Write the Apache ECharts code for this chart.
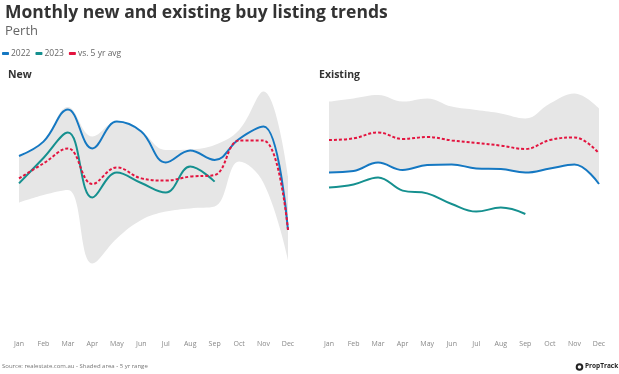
<!DOCTYPE html>
<html>
<head>
<meta charset="utf-8">
<script src="https://cdn.jsdelivr.net/npm/echarts@6/dist/echarts.min.js"></script>
<style>html,body{margin:0;padding:0;background:#fff;}#c{width:619px;height:374px;}</style>
</head>
<body>
<div id="c"></div>
<script>
var months = ['Jan','Feb','Mar','Apr','May','Jun','Jul','Aug','Sep','Oct','Nov','Dec'];

// New listings (index values)
var new2022 = [62, 69.2, 85.3, 65.8, 79.2, 74.2, 58.8, 64.7, 60, 70.5, 76.7, 25];
var new2023 = [48.3, 61, 73.7, 41.2, 53.7, 48.5, 43.7, 56.7, 49.2];
var newAvg  = [50.8, 58.3, 65.8, 48, 56.3, 50.8, 49.7, 51.7, 52.5, 69.7, 69.7, 25];
var newHigh = [62, 69.2, 86.5, 71.7, 79.2, 74.2, 65, 65.3, 67.5, 75, 94.2, 52];
var newLow  = [38.7, 42.5, 45, 8.3, 20.8, 30, 34.2, 35.8, 36.7, 59.2, 48.5, 10];

// Existing listings (index values)
var ex2022 = [53.8, 54.5, 58.7, 55, 57.5, 57.8, 55.8, 55.5, 53.7, 55.7, 57.7, 48];
var ex2023 = [46.2, 47.8, 51.3, 44.7, 43.3, 38, 34.2, 36.2, 33];
var exAvg  = [70, 70.8, 73.8, 70.5, 71.5, 69.8, 68.5, 67.2, 65.5, 70, 71.3, 63.3];
var exHigh = [89.2, 90.8, 92.5, 89.2, 90.8, 86.7, 85, 83.3, 80.8, 88.3, 93.3, 85.8];
var exLow  = ex2022;

var C22 = '#1578c2', C23 = '#15908f', CAVG = '#e3143f', BAND = '#e6e6e6';

function diff(h, l) { return h.map(function (v, i) { return +(v - l[i]).toFixed(2); }); }

function bandSeries(idx, low, high) {
  return [
    { type: 'line', xAxisIndex: idx, yAxisIndex: idx, stack: 'band' + idx, data: low, smooth: 0.4,
      symbol: 'none', lineStyle: { opacity: 0 }, silent: true, z: 1 },
    { type: 'line', xAxisIndex: idx, yAxisIndex: idx, stack: 'band' + idx, data: diff(high, low), smooth: 0.4,
      symbol: 'none', lineStyle: { opacity: 0 }, areaStyle: { color: BAND, opacity: 1 }, silent: true, z: 1 }
  ];
}
function lineSeries(idx, name, data, color, dashed) {
  return { type: 'line', name: name, xAxisIndex: idx, yAxisIndex: idx, data: data, smooth: 0.4,
    symbol: 'none', z: dashed ? 4 : 3,
    lineStyle: { color: color, width: 2, type: dashed ? [3, 2] : 'solid' }, itemStyle: { color: color } };
}

var axisX = function (idx) {
  return { type: 'category', gridIndex: idx, data: months, boundaryGap: false,
    axisLine: { show: false }, axisTick: { show: false }, splitLine: { show: false },
    axisLabel: { color: '#888', fontSize: 7, fontFamily: 'Open Sans', margin: 0, interval: 0 } };
};
var axisY = function (idx) {
  return { type: 'value', gridIndex: idx, min: -30, max: 100, show: false, splitLine: { show: false } };
};

var chart = echarts.init(document.getElementById('c'), null, { renderer: 'canvas' });
chart.setOption({
  animation: false,
  backgroundColor: '#fff',
  title: [
    { text: 'Monthly new and existing buy listing trends', left: 5, top: 4, padding: 0,
      textStyle: { fontFamily: 'Open Sans', fontWeight: 'bold', fontSize: 17.5, color: '#333' } },
    { text: 'Perth', left: 5, top: 25, padding: 0, textStyle: { fontFamily: 'Open Sans', fontWeight: 'normal', fontSize: 13, color: '#666' } },
    { text: 'New', left: 8, top: 70, padding: 0, textStyle: { fontFamily: 'Open Sans', fontWeight: 'bold', fontSize: 10.5, color: '#333' } },
    { text: 'Existing', left: 319, top: 70, padding: 0, textStyle: { fontFamily: 'Open Sans', fontWeight: 'bold', fontSize: 10.5, color: '#333' } },
    { text: 'Source: realestate.com.au - Shaded area - 5 yr range', left: 2, top: 363, padding: 0,
      textStyle: { fontFamily: 'Open Sans', fontWeight: 'normal', fontSize: 6, color: '#777' } },
    { text: 'PropTrack', left: 585, top: 363, padding: 0, textStyle: { fontFamily: 'Open Sans', fontWeight: 'bold', fontSize: 6.5, color: '#222' } }
  ],
  graphic: [
    { type: 'circle', shape: { cx: 579.5, cy: 367, r: 3.8 }, style: { fill: '#222' } },
    { type: 'circle', shape: { cx: 579.5, cy: 367, r: 1.8 }, style: { fill: '#fff' } }
  ],
  legend: {
    data: ['2022', '2023', 'vs. 5 yr avg'], left: 2, top: 49, padding: 0, itemWidth: 7, itemHeight: 3, itemGap: 5,
    icon: 'roundRect', textStyle: { fontFamily: 'Open Sans', fontSize: 8.5, color: '#666', padding: [0, 0, 0, -3] }
  },
  grid: [
    { left: 19, width: 269, top: 80, height: 260 },
    { left: 329, width: 270, top: 80, height: 260 }
  ],
  xAxis: [axisX(0), axisX(1)],
  yAxis: [axisY(0), axisY(1)],
  series: [].concat(
    bandSeries(0, newLow, newHigh),
    [lineSeries(0, '2022', new2022, C22), lineSeries(0, '2023', new2023, C23), lineSeries(0, 'vs. 5 yr avg', newAvg, CAVG, true)],
    bandSeries(1, exLow, exHigh),
    [lineSeries(1, '2022', ex2022, C22), lineSeries(1, '2023', ex2023, C23), lineSeries(1, 'vs. 5 yr avg', exAvg, CAVG, true)]
  )
});
</script>
</body>
</html>
